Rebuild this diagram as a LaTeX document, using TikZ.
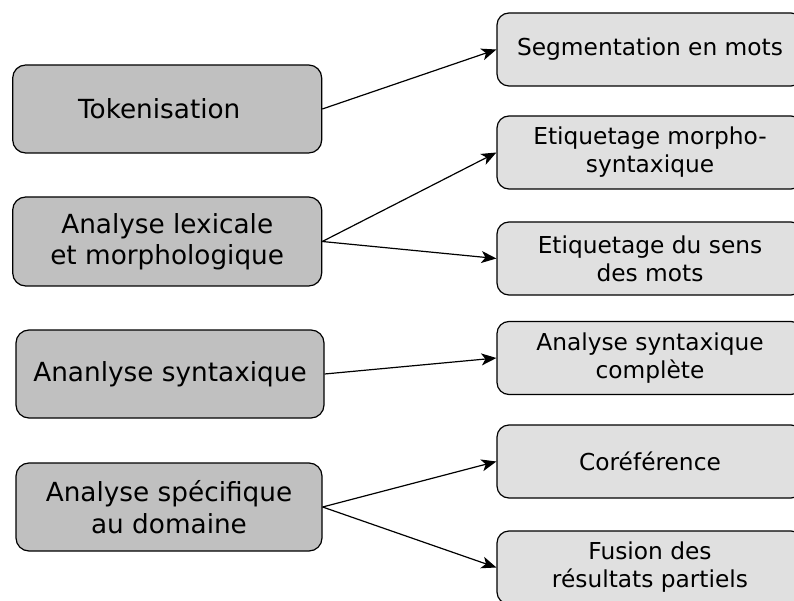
\documentclass[tikz,border=0pt]{standalone}
\usepackage{fontspec}
\setmainfont{DejaVu Sans}
\usetikzlibrary{arrows.meta}
\definecolor{stagefill}{HTML}{C0C0C0}
\definecolor{taskfill}{HTML}{E0E0E0}
\tikzset{
  stagebox/.style={draw=black, line width=1.2pt, fill=stagefill, rounded corners=13pt,
    align=center, inner sep=0pt, font=\fontsize{26.3}{31.5}\selectfont},
  taskbox/.style={draw=black, line width=1.2pt, fill=taskfill, rounded corners=12pt,
    align=center, inner sep=0pt, minimum width=306pt, minimum height=73pt,
    font=\fontsize{23.3}{28}\selectfont},
  link/.style={line width=1.2pt, -{Stealth[length=15pt,width=12pt,inset=4pt]}}
}
\begin{document}
\begin{tikzpicture}[x=1pt,y=-1pt]
\useasboundingbox (0,0) rectangle (794,601);
\clip (0,0) rectangle (794,601);

% processing stages
\node[stagebox, minimum width=309pt, minimum height=88pt] (tok) at (167.2,109) {\hspace*{-16pt}Tokenisation};
\node[stagebox, minimum width=309pt, minimum height=89pt] (lex) at (167.2,241.5) {Analyse lexicale\\et morphologique};
\node[stagebox, minimum width=308pt, minimum height=88pt] (syn) at (170,374) {Ananlyse syntaxique};
\node[stagebox, minimum width=306pt, minimum height=88pt] (dom) at (169,507) {Analyse spécifique\\au domaine};

% resulting tasks
\node[taskbox] (seg) at (650,49.5) {Segmentation en mots};
\node[taskbox] (pos) at (650,152.5) {Etiquetage morpho-\\syntaxique};
\node[taskbox] (wsd) at (650,258.5) {Etiquetage du sens\\des mots};
\node[taskbox] (full) at (650,358) {Analyse syntaxique\\complète};
\node[taskbox] (coref) at (650,461.5) {Coréférence};
\node[taskbox] (fus) at (650,567.5) {Fusion des\\résultats partiels};

% links
\draw[link] (tok.east) -- (seg.west);
\draw[link] (lex.east) -- (pos.west);
\draw[link] (lex.east) -- (wsd.west);
\draw[link] (syn.east) -- (full.west);
\draw[link] (dom.east) -- (coref.west);
\draw[link] (dom.east) -- (fus.west);
\end{tikzpicture}
\end{document}
